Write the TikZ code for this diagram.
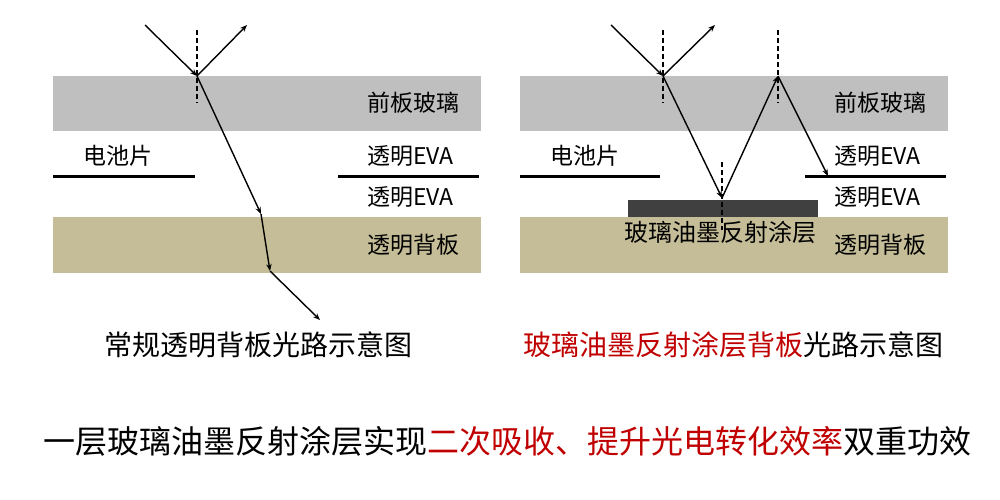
\documentclass[tikz,border=0pt]{standalone}
\usepackage{fontspec}
\setmainfont{Noto Sans CJK SC}
\usetikzlibrary{arrows.meta}
\definecolor{glass}{HTML}{BFBFBF}
\definecolor{backsheet}{HTML}{C4BD97}
\definecolor{ink}{HTML}{404040}
\definecolor{hl}{HTML}{C00000}
\begin{document}
\begin{tikzpicture}[x=1pt,y=-1pt,
  ray/.style={line width=1.4pt,-{Stealth[length=7pt,width=5.5pt]}},
  normalline/.style={line width=1.6pt,dash pattern=on 5pt off 3pt},
  cellline/.style={line width=3pt},
  lbl/.style={font=\fontsize{23}{27}\selectfont,anchor=west,inner sep=0pt},
  captext/.style={font=\fontsize{28}{32}\selectfont,inner sep=0pt},
  bigtext/.style={font=\fontsize{32}{36}\selectfont,inner sep=0pt}]
\useasboundingbox (0,0) rectangle (1000,500);
% ---------- left diagram ----------
\fill[glass] (53,76) rectangle (481,131);
\fill[backsheet] (53,217) rectangle (481,273);
\draw[cellline] (53,176) -- (195,176);
\draw[cellline] (338,176) -- (479,176);
\node[lbl] (lg) at (367,103) {前板玻璃};
\node[lbl] (lc) at (83,156) {电池片};
\node[lbl] (le1) at (367,156) {透明EVA};
\node[lbl] (le2) at (367,197) {透明EVA};
\node[lbl] (lb) at (367,245) {透明背板};
\coordinate (A1) at (145,25);
\coordinate (P1) at (197,76);
\coordinate (R1) at (247,25);
\coordinate (Q1) at (261,214);
\coordinate (S1) at (270,271);
\coordinate (E1) at (320,320);
\coordinate (N1a) at (197,30);
\coordinate (N1b) at (197,103);
\draw[normalline] (N1a) -- (N1b);
\draw[ray] (A1) -- (P1);
\draw[ray] (P1) -- (R1);
\draw[ray] (P1) -- (Q1);
\draw[ray] (Q1) -- (S1);
\draw[ray] (S1) -- (E1);
\node[captext] (capL) at (258,345) {常规透明背板光路示意图};
% ---------- right diagram ----------
\fill[glass] (520,76) rectangle (948,131);
\fill[backsheet] (520,217) rectangle (948,273);
\fill[ink] (628,200) rectangle (818,217);
\draw[cellline] (520,176) -- (660,176);
\draw[cellline] (805,176) -- (946,176);
\coordinate (N3a) at (722,162);
\coordinate (N3b) at (722,230);
\draw[normalline] (N3a) -- (N3b);
\node[lbl] (rg) at (834,103) {前板玻璃};
\node[lbl] (rc) at (550,156) {电池片};
\node[lbl] (re1) at (834,156) {透明EVA};
\node[lbl] (re2) at (834,197) {透明EVA};
\node[lbl] (rb) at (834,245) {透明背板};
\node[lbl,anchor=center,font=\fontsize{24}{28}\selectfont] (rink) at (720,232) {玻璃油墨反射涂层};
\coordinate (A2) at (611,25);
\coordinate (P2) at (663,76);
\coordinate (R2) at (715,25);
\coordinate (B2) at (722,198);
\coordinate (T2) at (778,76);
\coordinate (E2) at (828,176);
\coordinate (N2a) at (663,30);
\coordinate (N2b) at (663,103);
\coordinate (N4a) at (778,30);
\coordinate (N4b) at (778,103);
\draw[normalline] (N2a) -- (N2b);
\draw[normalline] (N4a) -- (N4b);
\draw[ray] (A2) -- (P2);
\draw[ray] (P2) -- (R2);
\draw[ray] (P2) -- (B2);
\draw[ray] (B2) -- (T2);
\draw[ray] (T2) -- (E2);
\node[captext] (capR) at (733,345) {\textcolor{hl}{玻璃油墨反射涂层背板}光路示意图};
% ---------- bottom line ----------
\node[bigtext] (summary) at (507,441) {一层玻璃油墨反射涂层实现\textcolor{hl}{二次吸收、提升光电转化效率}双重功效};
\end{tikzpicture}
\end{document}
